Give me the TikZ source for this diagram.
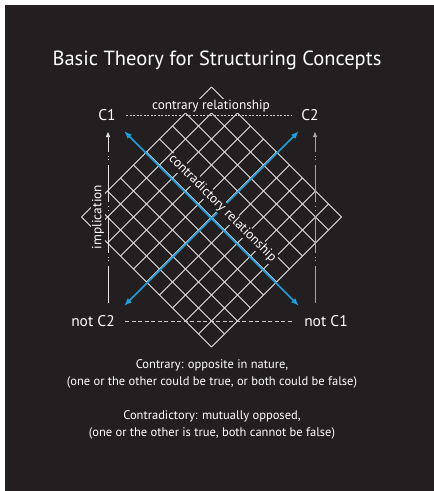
\documentclass[tikz,border=0pt]{standalone}
\usepackage{fontspec}
\setmainfont{PT Sans}
\usetikzlibrary{arrows.meta,calc}
\definecolor{bg}{RGB}{35,31,32}
\definecolor{arrowblue}{RGB}{27,160,222}
\definecolor{gridline}{RGB}{230,230,230}
\tikzset{
  lbl/.style={text=white,font=\fontsize{15.5}{18}\selectfont},
  relation/.style={text=white,fill=bg,inner sep=0.6pt,font=\fontsize{13.3}{15}\selectfont},
  note/.style={text=white,align=center,font=\fontsize{12.5}{17}\selectfont},
  dirline/.style={arrowblue,line width=1.6pt,{Latex[length=8pt,width=6pt]}-{Latex[length=8pt,width=6pt]}},
  implies/.style={line width=0.8pt,-{Triangle[length=5pt,width=4pt]},dash pattern=on 37pt off 5pt on 1pt off 2.5pt on 1pt off 4pt}
}

\begin{document}
\begin{tikzpicture}[x=1pt,y=-1pt]
\fill[white] (0,0) rectangle (434,491);
\fill[bg] (5,5) rectangle (434,491);
\node[text=white,font=\fontsize{20.5}{24}\selectfont] (title) at (217,60) {Basic Theory for Structuring Concepts};

% rotated grid
\begin{scope}[shift={(211.5,217)},rotate=45,gridline,line width=0.75pt]
\foreach \i in {0,...,10} {
  \draw (-91.92+18.385*\i,-91.92) -- ++(0,183.85);
  \draw (-91.92,-91.92+18.385*\i) -- ++(183.85,0);
}
\end{scope}

\node[lbl] (C1) at (107,115) {C1}; \node[lbl] (C2) at (310,115) {C2};
\node[lbl] (notC2) at (93,321) {not C2}; \node[lbl] (notC1) at (326,321) {not C1};

\coordinate (p1) at (124,131); \coordinate (p2) at (299,306);
\coordinate (q1) at (124,306); \coordinate (q2) at (299,131);
\draw[dirline] (p1) -- (p2);
\draw[dirline] (q1) -- (q2);

\node[relation,rotate=-45] (contra) at (222.5,208.5) {contradictory relationship};
\node[relation] (contrary) at (211,106) {contrary relationship};
\node[relation,rotate=90] (impl) at (98,217) {implication};

\draw[gray!40,line width=0.8pt,dash pattern=on 2pt off 1.5pt,shorten <=7pt,shorten >=7pt] (C1) -- (C2);
\draw[gray!40,line width=0.8pt,dash pattern=on 4pt off 2.5pt,shorten <=7pt,shorten >=8pt] (notC2) -- (notC1);

\coordinate (iL1) at (108,303); \coordinate (iL2) at (108,132);
\coordinate (iR1) at (315,303); \coordinate (iR2) at (315,132);
\draw[implies,gray!20] (iL1) -- (iL2);
\draw[implies,gray!70] (iR1) -- (iR2);

\node[note] (n1) at (212,374) {Contrary: opposite in nature,\\(one or the other could be true, or both could be false)};
\node[note] (n2) at (212,425) {Contradictory: mutually opposed,\\(one or the other is true, both cannot be false)};
\end{tikzpicture}
\end{document}
